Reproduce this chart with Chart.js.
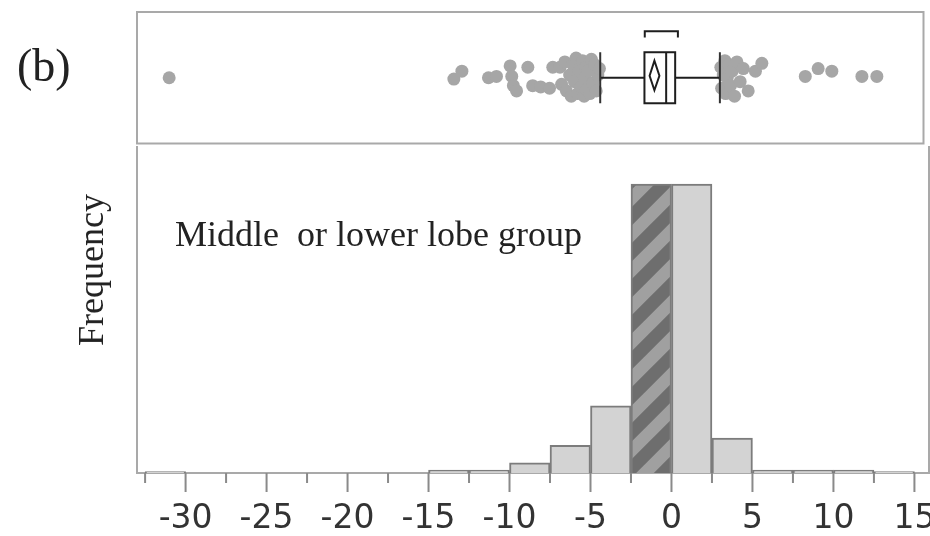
<!DOCTYPE html>
<html>
<head>
<meta charset="utf-8">
<script src="https://cdn.jsdelivr.net/npm/chart.js@4.4.0/dist/chart.umd.min.js"></script>
<style>
body{margin:0;background:#fff;}
#marco{position:relative;width:930px;height:536px;overflow:hidden;background:#fff;}
canvas{position:absolute;left:0;}
#graficaCaja{top:0;}
#graficaHisto{top:146px;}
.texto{position:absolute;font-family:"Liberation Serif","Times New Roman",serif;color:#222;white-space:pre;line-height:1;}
</style>
</head>
<body>
<div id="marco">
  <canvas id="graficaHisto" width="930" height="390"></canvas>
  <canvas id="graficaCaja" width="930" height="150"></canvas>
  <div class="texto" style="left:17px;top:43px;font-size:46px;">(b)</div>
  <div class="texto" style="left:175px;top:216px;font-size:36px;">Middle  or lower lobe group</div>
  <div class="texto" style="left:91px;top:270px;font-size:36px;transform:translate(-50%,-50%) rotate(-90deg);">Frequency</div>
</div>
<script>
// histograma: inicio de cada clase y su frecuencia
const inicioClases = [-32.5, -15, -12.5, -10, -7.5, -5, -2.5, 0, 2.5, 5, 7.5, 10, 12.5];
const frecuencias  = [1, 2, 2, 7, 19, 46, 198, 198, 24, 2, 2, 2, 1];
const anchoClase = 2.5;
const claseRayada = -2.5;
const marcasX = [-30, -25, -20, -15, -10, -5, 0, 5, 10, 15];
const marcasMenores = [-32.5, -27.5, -22.5, -17.5, -12.5, -7.5, -2.5, 2.5, 7.5, 12.5];

// diagrama de caja: puntos (valor, desplazamiento vertical)
const puntosX = [-31.0, -13.3, -12.8, -11.15, -10.65, -9.8, -9.7, -9.6, -9.4, -8.7, -8.4, -7.9, -7.35, -7.15,
  -6.7, -6.6, -6.4, -6.3, -6.1, -6.0, -5.9, -5.8, -5.7, -5.6, -5.5, -5.4, -5.3, -5.2, -5.15, -5.1, -5.05,
  -4.95, -4.85, -4.75, -4.65, -4.55, -4.45, -4.35, -4.25,
  3.3, 3.35, 3.45, 3.55, 3.6, 3.7, 3.8, 3.9, 4.0, 4.15, 4.3, 4.5, 4.7, 5.0, 5.45, 5.85,
  8.55, 9.35, 10.2, 12.07, 13.0];
const puntosY = [0.50, 0.49, 0.55, 0.50, 0.51, 0.59, 0.51, 0.44, 0.40, 0.58, 0.44, 0.43, 0.42, 0.58,
  0.58, 0.45, 0.62, 0.40, 0.52, 0.36, 0.60, 0.47, 0.65, 0.38, 0.55, 0.43, 0.63, 0.36, 0.50, 0.58, 0.41,
  0.55, 0.38, 0.64, 0.46, 0.60, 0.40, 0.52, 0.57,
  0.58, 0.42, 0.52, 0.63, 0.38, 0.50, 0.60, 0.44, 0.55, 0.36, 0.62, 0.47, 0.57, 0.40, 0.55, 0.61,
  0.51, 0.57, 0.55, 0.51, 0.51];
const caja = [-4.2, -1.45, -0.1, 0.46, 3.24];      // bigote inf, Q1, mediana, Q3, bigote sup
const diamanteMedia = [-1.13, -0.83, -0.52];       // IC inf, media, IC sup
const mitadCorta = [-1.43, 0.63];

const ejeMin = -33, ejeMax = 15.9;
const colorMarco = '#a9a9a9';

document.addEventListener("DOMContentLoaded", function(event) {
    GraficoCaja();
    GraficoHisto();
});

//----------------------------------------------------------------------------
function GraficoCaja(){
const ctc = document.getElementById('graficaCaja');
const puntos = puntosX.map((v, i) => ({x: v, y: puntosY[i]}));
const dibujo = {
    id: 'dibujo_caja',
    beforeDraw: (chart) => {
      const ctx = chart.ctx, a = chart.chartArea;
      ctx.save();
      ctx.strokeStyle = colorMarco;
      ctx.lineWidth = 2;
      ctx.strokeRect(a.left, a.top, a.right - a.left, a.bottom - a.top);
      ctx.restore();
    },
    afterDatasetsDraw: (chart) => {
      const ctx = chart.ctx;
      const px = v => chart.scales.x.getPixelForValue(v);
      const py = v => chart.scales.y.getPixelForValue(v);
      const linea = (x1, y1, x2, y2) => { ctx.beginPath(); ctx.moveTo(x1, y1); ctx.lineTo(x2, y2); ctx.stroke(); };
      ctx.save();
      ctx.strokeStyle = '#1e1e1e';
      ctx.lineWidth = 2;
      linea(px(caja[0]), py(0.5), px(caja[1]), py(0.5));
      linea(px(caja[3]), py(0.5), px(caja[4]), py(0.5));
      ctx.strokeStyle = '#333';
      linea(px(caja[0]), py(0.306), px(caja[0]), py(0.694));
      linea(px(caja[4]), py(0.306), px(caja[4]), py(0.694));
      ctx.strokeStyle = '#1e1e1e';
      ctx.strokeRect(px(caja[1]), py(0.694), px(caja[3]) - px(caja[1]), py(0.306) - py(0.694));
      linea(px(caja[2]), py(0.694), px(caja[2]), py(0.306));
      ctx.beginPath();
      ctx.moveTo(px(diamanteMedia[0]), py(0.515));
      ctx.lineTo(px(diamanteMedia[1]), py(0.63));
      ctx.lineTo(px(diamanteMedia[2]), py(0.515));
      ctx.lineTo(px(diamanteMedia[1]), py(0.405));
      ctx.closePath();
      ctx.stroke();
      ctx.beginPath();
      ctx.moveTo(px(mitadCorta[0]), py(0.806));
      ctx.lineTo(px(mitadCorta[0]), py(0.853));
      ctx.lineTo(px(mitadCorta[1]), py(0.853));
      ctx.lineTo(px(mitadCorta[1]), py(0.806));
      ctx.stroke();
      ctx.restore();
    }
};
new Chart(ctc, {
    type: 'scatter',
    data: {
        datasets: [{
            data: puntos,
            backgroundColor: '#a6a6a6',
            borderWidth: 0,
            pointRadius: 6.5,
            pointHoverRadius: 6.5,
        }]
    },
    options: {
        responsive: false,
        animation: false,
        events: [],
        layout: {padding: {left: 137, right: 1, top: 12, bottom: 4}},
        plugins: {legend: {display: false}, tooltip: {enabled: false}},
        scales: {
            x: {type: 'linear', min: ejeMin, max: ejeMax, offset: false, display: false},
            y: {min: 0, max: 1, display: false},
        }
    },
    plugins: [dibujo],
});
};
//----------------------------------------------------------------------------

function GraficoHisto(){
const cth = document.getElementById('graficaHisto');
// relleno rayado para la clase destacada
const lado = 36;
const tesela = document.createElement('canvas');
tesela.width = lado; tesela.height = lado;
const tc = tesela.getContext('2d');
tc.fillStyle = '#6e6e6e';
tc.fillRect(0, 0, lado, lado);
tc.strokeStyle = '#a0a0a0';
tc.lineWidth = 12.5;
tc.beginPath();
for (const k of [0, 1, 2]) {
    tc.moveTo(-lado, k * lado + lado);
    tc.lineTo(2 * lado, k * lado - 2 * lado);
}
tc.stroke();
const rayado = tc.createPattern(tesela, 'repeat');

const clases = inicioClases.map((v, i) => ({x: v + anchoClase / 2, y: frecuencias[i]}));
const marcas = {
    id: 'marcas_eje',
    afterDraw: (chart) => {
      const ctx = chart.ctx, a = chart.chartArea, sx = chart.scales.x;
      ctx.save();
      ctx.strokeStyle = '#8a8a8a';
      ctx.lineWidth = 2;
      ctx.beginPath();
      marcasX.forEach(v => { const p = sx.getPixelForValue(v); ctx.moveTo(p, a.bottom); ctx.lineTo(p, a.bottom + 19); });
      marcasMenores.forEach(v => { const p = sx.getPixelForValue(v); ctx.moveTo(p, a.bottom); ctx.lineTo(p, a.bottom + 10); });
      ctx.stroke();
      ctx.strokeStyle = colorMarco;
      ctx.beginPath();
      ctx.moveTo(a.left, a.top); ctx.lineTo(a.left, a.bottom);
      ctx.moveTo(a.right, a.top); ctx.lineTo(a.right, a.bottom);
      ctx.stroke();
      ctx.restore();
    }
};
new Chart(cth, {
    type: 'bar',
    data: {
        datasets: [{
            data: clases,
            backgroundColor: (c) => (inicioClases[c.dataIndex] === claseRayada ? rayado : '#d3d3d3'),
            borderColor: '#7c7c7c',
            borderWidth: 2,
            barPercentage: 1,
            categoryPercentage: 1,
        }]
    },
    options: {
        responsive: false,
        animation: false,
        events: [],
        layout: {padding: {left: 137, right: 1, top: 0, bottom: 0}},
        plugins: {legend: {display: false}, tooltip: {enabled: false}},
        scales: {
            x: {
                type: 'linear', min: ejeMin, max: ejeMax, offset: false,
                afterBuildTicks: (s) => { s.ticks = marcasX.map(v => ({value: v})); },
                afterFit: (s) => { s.height = 63; s.paddingLeft = 0; s.paddingRight = 0; },
                grid: {display: false, drawTicks: false, offset: false},
                border: {display: true, color: colorMarco, width: 2},
                ticks: {
                    padding: 27, maxRotation: 0, autoSkip: false, color: '#333',
                    font: {family: '"DejaVu Sans", Verdana, sans-serif', size: 33},
                },
            },
            y: {min: 0, max: 224, display: false},
        }
    },
    plugins: [marcas],
});
};
//----------------------------------------------------------------------------
</script>
</body>
</html>
